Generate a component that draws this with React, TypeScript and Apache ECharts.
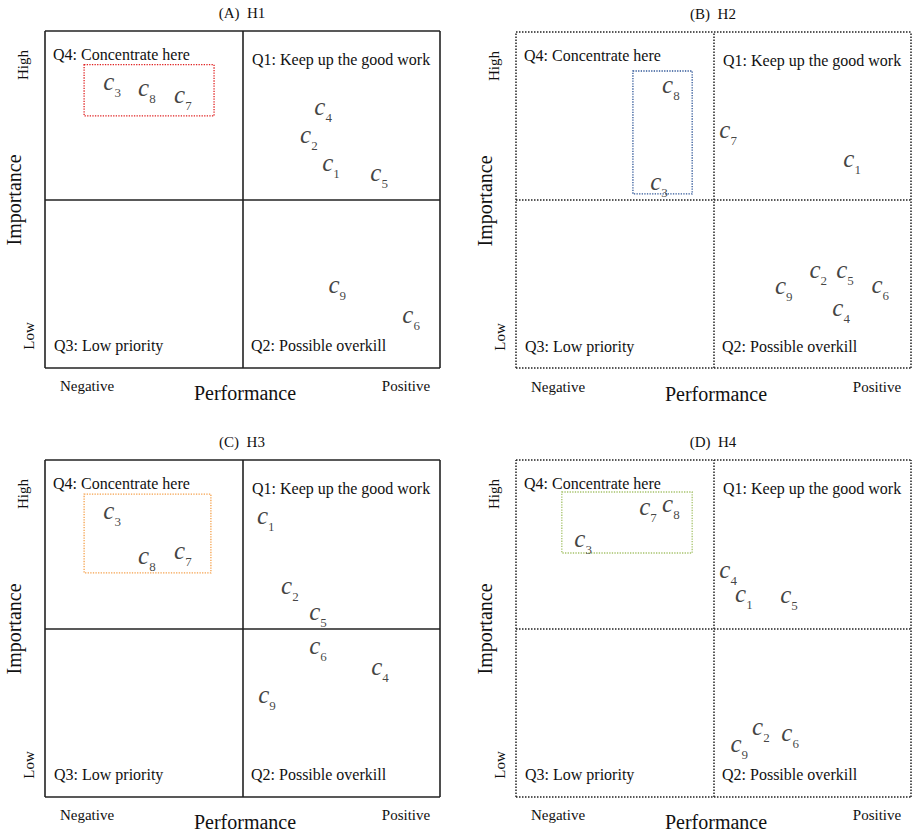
import React, { useEffect, useRef } from "react";
import * as echarts from "echarts";

// ---- data ----
const panelTitles = ["(A)  H1", "(B)  H2", "(C)  H3", "(D)  H4"];
const criteria = ["1", "2", "3", "4", "5", "6", "7", "8", "9"];

const h1Performance = [7.24, 6.68, 1.7, 7.04, 8.46, 9.27, 3.49, 2.58, 7.4];
const h1Importance = [6.02, 6.85, 8.43, 7.69, 5.73, 1.51, 8.04, 8.25, 2.4];

const h2Performance = [8.51, 7.65, 3.62, 8.23, 8.33, 9.22, 5.37, 3.92, 6.78];
const h2Importance = [6.16, 2.86, 5.48, 1.73, 2.86, 2.41, 7.02, 8.36, 2.38];

const h3Performance = [5.59, 6.2, 1.7, 8.48, 6.91, 6.91, 3.49, 2.58, 5.62];
const h3Importance = [8.28, 6.2, 8.43, 3.8, 5.43, 4.42, 7.24, 7.09, 2.97];

const h4Performance = [5.77, 6.2, 1.7, 5.37, 6.91, 6.94, 3.34, 3.92, 5.65];
const h4Importance = [5.96, 2.02, 7.6, 6.68, 5.93, 1.84, 8.55, 8.64, 1.51];

// highlighted "concentrate" boxes: [xMin, xMax, yMin, yMax]
const h1Box = [0.99, 4.28, 7.48, 9.0];
const h2Box = [2.96, 4.46, 5.18, 8.84];
const h3Box = [0.99, 4.2, 6.65, 8.99];
const h4Box = [1.16, 4.46, 7.24, 9.05];

const quadrantLabels = [
  "Q4: Concentrate here",
  "Q1: Keep up the good work",
  "Q3: Low priority",
  "Q2: Possible overkill",
];
const axisMin = 0;
const axisMid = 5;
const axisMax = 10;

// ---- layout / style ----
const grids = [
  { left: 45, top: 31, width: 395, height: 337 },
  { left: 516, top: 32, width: 395, height: 336 },
  { left: 45, top: 460, width: 395, height: 337 },
  { left: 516, top: 460, width: 395, height: 337 },
];
const borderTypes = ["solid", "dotted", "solid", "dotted"];
const boxColors = ["#e02020", "#2e5597", "#f5a04a", "#a5c26a"];
const FONT = "Liberation Serif";

export default function App() {
  const ref = useRef<HTMLDivElement>(null);
  useEffect(() => {
    document.body.style.margin = "0";
    if (!ref.current) return;
    const chart = echarts.init(ref.current, undefined, { renderer: "svg" });
    const perf = [h1Performance, h2Performance, h3Performance, h4Performance];
    const imp = [h1Importance, h2Importance, h3Importance, h4Importance];
    const boxes = [h1Box, h2Box, h3Box, h4Box];

    const series: any[] = [];
    const graphic: any[] = [];
    grids.forEach((g, i) => {
      const lineStyle = {
        color: "#222",
        width: i % 2 === 0 ? 1.6 : 1.5,
        type: borderTypes[i],
      };
      const b = boxes[i];
      series.push({
        type: "scatter",
        xAxisIndex: i,
        yAxisIndex: i,
        symbolSize: 0,
        clip: false,
        itemStyle: { color: "#111" },
        data: criteria.map((c, k) => ({ value: [perf[i][k], imp[i][k]], name: c })),
        label: {
          show: true,
          position: "inside",
          color: "#111",
          fontFamily: FONT,
          formatter: (p: any) => `{c|c}{s|${p.name}}`,
          rich: {
            c: {
              fontFamily: FONT,
              fontStyle: "italic",
              fontSize: 25,
              color: "#111",
              padding: [0, 0, 5, 0],
              verticalAlign: "bottom",
            },
            s: {
              fontFamily: FONT,
              fontSize: 13,
              color: "#111",
              verticalAlign: "bottom",
            },
          },
        },
        markLine: {
          silent: true,
          symbol: "none",
          animation: false,
          label: { show: false },
          lineStyle,
          data: [
            { xAxis: axisMin },
            { xAxis: axisMid },
            { xAxis: axisMax },
            { yAxis: axisMin },
            { yAxis: axisMid },
            { yAxis: axisMax },
          ],
        },
        markArea: {
          silent: true,
          itemStyle: {
            color: "rgba(0,0,0,0)",
            borderColor: boxColors[i],
            borderWidth: 1.3,
            borderType: "dotted",
          },
          data: [[{ coord: [b[0], b[3]] }, { coord: [b[1], b[2]] }]],
        },
      });

      const L = g.left;
      const T = g.top;
      const txt = (text: string, x: number, y: number, size: number, align = "left", rotation = 0) => ({
        type: "text",
        x,
        y,
        rotation,
        style: {
          text,
          fontFamily: FONT,
          fontSize: size,
          fill: "#111",
          textAlign: align,
          textVerticalAlign: "middle",
        },
      });
      graphic.push(txt(panelTitles[i], L + 197, T - 18, 15, "center"));
      graphic.push(txt(quadrantLabels[0], L + 8, T + 23, 16));
      graphic.push(txt(quadrantLabels[1], L + 207, T + 28, 16));
      graphic.push(txt(quadrantLabels[2], L + 9, T + 314, 16));
      graphic.push(txt(quadrantLabels[3], L + 206, T + 314, 16));
      graphic.push(txt("High", L - 22, T + 34, 15, "center", Math.PI / 2));
      graphic.push(txt("Low", L - 16, T + 305, 15, "center", Math.PI / 2));
      graphic.push(txt("Importance", L - 31, T + 169, 20, "center", Math.PI / 2));
      graphic.push(txt("Negative", L + 42, T + 355, 15, "center"));
      graphic.push(txt("Positive", L + 361, T + 355, 15, "center"));
      graphic.push(txt("Performance", L + 200, T + 362, 20, "center"));
    });

    chart.setOption({
      animation: false,
      backgroundColor: "#fff",
      grid: grids.map((g) => ({ ...g, containLabel: false })),
      xAxis: grids.map((_, i) => ({
        type: "value",
        gridIndex: i,
        min: axisMin,
        max: axisMax,
        show: false,
      })),
      yAxis: grids.map((_, i) => ({
        type: "value",
        gridIndex: i,
        min: axisMin,
        max: axisMax,
        show: false,
      })),
      series,
      graphic,
    });
    return () => chart.dispose();
  }, []);
  return <div ref={ref} style={{ width: 912, height: 833 }} />;
}
